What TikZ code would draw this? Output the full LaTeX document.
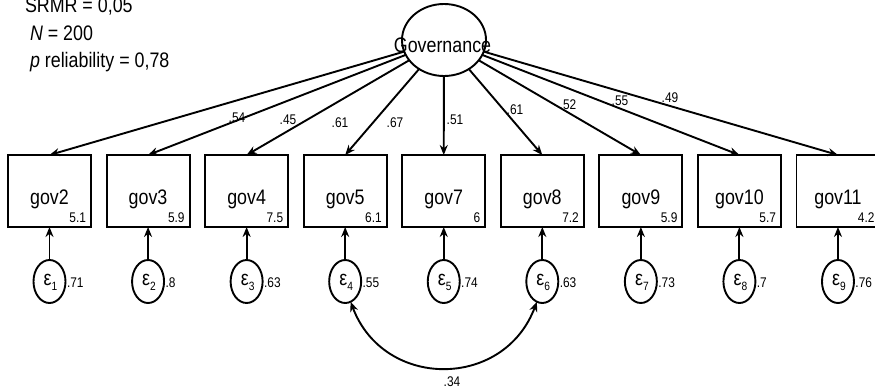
\documentclass[tikz,border=0pt]{standalone}
\usepackage{fontspec}
\setmainfont{Liberation Sans}[FakeStretch=0.85]
\usetikzlibrary{shapes.geometric,arrows.meta}
\begin{document}
\begin{tikzpicture}[x=1pt,y=-1pt,
  every node/.style={inner sep=0pt, outer sep=0pt},
  ln/.style={line width=1.9pt},
  arr/.style={ln, -{Stealth[length=10pt,width=8pt]}},
  darr/.style={ln, {Stealth[length=10pt,width=8pt]}-{Stealth[length=10pt,width=8pt]}},
  obsbox/.style={draw, ln, rectangle, minimum width=83pt, minimum height=72pt},
  latent/.style={draw, ln, ellipse, minimum width=84pt, minimum height=72pt},
  errell/.style={draw, ln, ellipse, minimum width=32pt, minimum height=43pt},
  big/.style={font=\fontsize{21}{25}\selectfont},
  small/.style={font=\fontsize{14}{16}\selectfont},
]
\useasboundingbox (0,0) rectangle (875,391);

% fit statistics
\node[big, anchor=base west] (srmr) at (25,12.5) {SRMR = 0,05};
\node[big, anchor=base west] (nn) at (30,40) {\itshape N\upshape{} = 200};
\node[big, anchor=base west] (rel) at (30,67) {\itshape p\upshape{} reliability = 0,78};

% latent variable
\node[latent] (gov) at (444,40) {};
\node[big] (govtext) at (442.5,45) {Governance};

% indicators, errors
\foreach \i/\name/\var/\ev in {1/gov2/5.1/.71, 2/gov3/5.9/.8, 3/gov4/7.5/.63,
    4/gov5/6.1/.55, 5/gov7/6/.74, 6/gov8/7.2/.63, 7/gov9/5.9/.73,
    8/gov10/5.7/.7, 9/gov11/4.2/.76}{
  \pgfmathsetmacro\xx{49.5+98.56*(\i-1)}
  \node[obsbox] (b\i) at (\xx,191) {};
  \node[big, anchor=base] (t\i) at ([yshift=-13pt]b\i.center) {\name};
  \node[small, anchor=base east] (v\i) at ([xshift=-5pt,yshift=5pt]b\i.south east) {\var};
  \node[errell] (e\i) at (\xx,281.5) {};
  \node[big] (et\i) at ([xshift=1pt,yshift=-1pt]e\i.center) {ε\raisebox{-5pt}{\fontsize{12}{12}\selectfont\i}};
  \node[small, anchor=west] (ev\i) at ([xshift=1.5pt,yshift=-1pt]e\i.east) {\ev};
  \draw[arr] (e\i) -- (b\i.south);
  \draw[arr] (gov) -- (b\i.north);
}

% loadings
\foreach \i/\x/\y/\l in {1/237/118/.54, 2/288/120/.45, 3/340/123/.61,
    4/395/123/.67, 5/455/120/.51, 6/515/110/.61, 7/568/105/.52,
    8/620/101/.55, 9/670/98/.49}{
  \node[small] (l\i) at (\x,\y) {\l};
}

% covariance
\draw[darr] (e4.-75) .. controls +(33,88) and +(-33,88) .. (e6.-105);
\node[small] (cov) at (452,382) {.34};
\end{tikzpicture}
\end{document}
